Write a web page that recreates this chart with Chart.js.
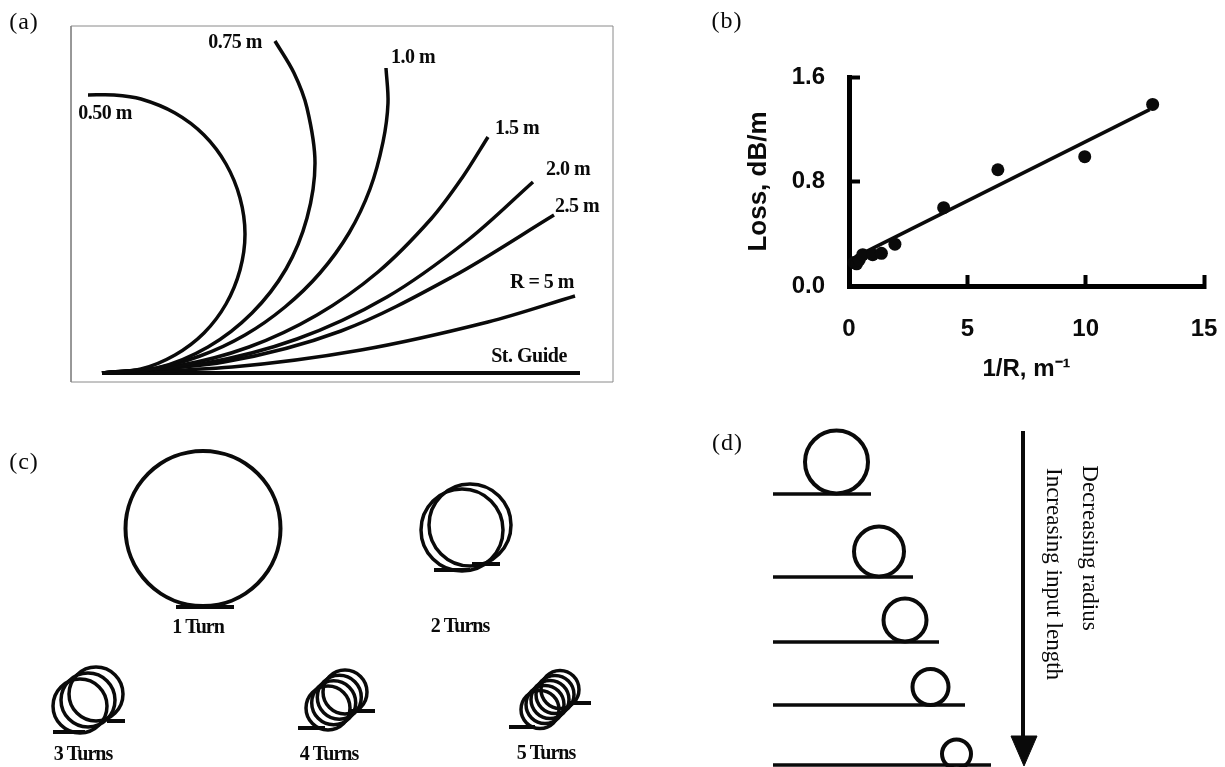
<!DOCTYPE html>
<html>
<head>
<meta charset="utf-8">
<style>
html,body{margin:0;padding:0;background:#fff;width:1225px;height:767px;overflow:hidden}
canvas{position:absolute;display:block}
</style>
<script src="https://cdn.jsdelivr.net/npm/chart.js@4"></script>
</head>
<body>
<canvas id="pa" width="640" height="400" style="left:0;top:0"></canvas>
<canvas id="pb" width="525" height="400" style="left:700px;top:0"></canvas>
<canvas id="pc" width="640" height="337" style="left:0;top:430px"></canvas>
<canvas id="pd" width="535" height="347" style="left:690px;top:420px"></canvas>
<script>
/* ---------- panel (a): guide traces, units measured from the launch point ---------- */
const guide050 = [[0,0],[39,4],[73,18],[102,40],[124,69],[138,103],[143,139],[138,175],[124,209],[102,238],[73,260],[39,274],[12,278],[-14,278]];
const guide075 = [[0,0],[55,5],[106,26],[150,60],[184,104],[205,155],[213,210],[205,265],[192,300],[173,332]];
const guide100 = [[0,0],[50,4],[98,17],[143,38],[183,66],[218,100],[247,140],[268,184],[281,231],[286,270],[284,305]];
const guide150 = [[0,0],[75,7],[147,26],[215,58],[276,101],[329,154],[360,195],[386,236]];
const guide200 = [[0,0],[99,9],[195,34],[285,76],[366,133],[431,191]];
const guide250 = [[0,0],[122,11],[239,42],[350,96],[452,158]];
const guide500 = [[0,0],[130,6],[259,23],[386,51],[473,77]];
const guideStraight = [[0,0],[478,0]];
const frameA = [[-31,-9],[511,-9],[511,347],[-31,347],[-31,-9]];
const labelsA = ["0.75 m","1.0 m","0.50 m","1.5 m","2.0 m","2.5 m","R = 5 m","St. Guide"];
const labelsAx = [133,311,3,415,466,475,440,427];
const labelsAy = [330,315,259,244,203,166,90,16];

/* ---------- panel (b): loss against curvature ---------- */
const curvature = [0.2,0.32,0.43,0.58,1.0,1.37,1.94,4.0,6.29,9.96,12.83];
const lossDb = [0.18,0.17,0.2,0.24,0.24,0.25,0.32,0.6,0.89,0.99,1.39];
const fitX = [0.3,12.7];
const fitY = [0.225,1.35];
const xTickValues = [0,5,10,15];
const yTickValues = [0,0.8,1.6];

/* ---------- panel (c): coil turns ---------- */
const turn1 = [[203,98.5,77.5]];
const turn2 = [[470,95,41],[462,100,41]];
const turn3 = [[80,276,27],[88,270,27],[96,264,27]];
const turn4 = [[328,278,22],[333.7,272.7,22],[339.3,267.3,22],[345,262,22]];
const turn5 = [[540,279.5,19],[545,274.5,19],[550,269.5,19],[555,264.5,19],[560,259.5,19]];
const leads = [
  [[176,177],[234,177]],
  [[434,140],[470,140]],[[472,134],[500,134]],
  [[53,302],[85,302]],[[107,291],[125,291]],
  [[298,298],[325,298]],[[351,281],[375,281]],
  [[509,297],[535,297]],[[570,273],[591,273]]
];
const labelsC = ["1 Turn","2 Turns","3 Turns","4 Turns","5 Turns"];
const labelsCx = [198,460,83,329,546];
const labelsCy = [198,197,325,325,324];

/* ---------- panel (d): decreasing radius ---------- */
const loops = [[146.5,42,31.5],[189,131.5,25],[215,200,21.5],[240.5,267,18],[266.5,334,14.5]];
const inputs = [[[83,74],[181,74]],[[83,157],[223,157]],[[83,222],[249,222]],[[83,285],[275,285]],[[83,345],[301,345]]];
const arrowShaft = [[333,11],[333,320]];
const arrowHead = [[321,316],[347,316],[334,346],[321,316]];

const ink = '#0a0a0a';
const SERIF = '"Liberation Serif","Times New Roman",serif';
const toPts = a => a.map(p => ({x:p[0], y:p[1]}));
const line = (a, w, o) => Object.assign({type:'scatter', showLine:true, data:toPts(a), borderColor:ink, borderWidth:w, pointRadius:0, fill:false, clip:false, borderCapStyle:'butt'}, o||{});
const rings = (a, w) => ({type:'bubble', data:a.map(p => ({x:p[0], y:p[1], r:p[2]})), borderColor:ink, backgroundColor:'rgba(0,0,0,0)', borderWidth:w, hoverRadius:0, clip:false});

const textPlugin = {
  id:'panelText',
  afterDatasetsDraw(chart, args, opts){
    const c = chart.ctx;
    (opts.items||[]).forEach(t => {
      c.save();
      c.font = t.font;
      c.fillStyle = ink;
      c.textAlign = 'center';
      c.textBaseline = 'middle';
      if ('letterSpacing' in c) c.letterSpacing = t.ls || '0px';
      c.translate(chart.scales.x.getPixelForValue(t.x), chart.scales.y.getPixelForValue(t.y));
      if (t.rot) c.rotate(t.rot);
      c.fillText(t.text, 0, 0);
      c.restore();
    });
  }
};
Chart.register(textPlugin);

const LETTER = '24px '+SERIF;
function panel(id, datasets, x, y, items){
  return new Chart(document.getElementById(id), {
    type:'scatter',
    data:{datasets},
    options:{
      responsive:false, animation:false, events:[],
      layout:{padding:0, autoPadding:false},
      plugins:{legend:{display:false}, tooltip:{enabled:false}, panelText:{items}},
      scales:{
        x:{type:'linear', display:false, min:x[0], max:x[1]},
        y:{type:'linear', display:false, min:y[0], max:y[1], reverse:!!y[2]}
      }
    }
  });
}

/* (a) */
const itemsA = labelsA.map((t,i) => ({text:t, x:labelsAx[i], y:labelsAy[i], font:'bold 20px '+SERIF, ls:'-0.5px'}));
itemsA.push({text:'(a)', x:-78, y:350, font:LETTER, ls:'1px'});
panel('pa', [
  line(frameA, 1, {borderColor:'#8a8a8a'}),
  line(guide050, 3.5, {tension:0.33}),
  line(guide075, 3.5, {tension:0.33}),
  line(guide100, 3.5, {tension:0.33}),
  line(guide150, 3.5, {tension:0.33}),
  line(guide200, 3.5, {tension:0.33}),
  line(guide250, 3.5, {tension:0.33}),
  line(guide500, 3.5, {tension:0.33}),
  line(guideStraight, 4)
], [-102,538], [-27,373], itemsA);

/* (b) */
new Chart(document.getElementById('pb'), {
  type:'scatter',
  data:{datasets:[
    {data:curvature.map((v,i) => ({x:v, y:lossDb[i]})), backgroundColor:ink, borderColor:ink, pointRadius:6.5, pointBorderWidth:0, clip:false},
    {showLine:true, data:fitX.map((v,i) => ({x:v, y:fitY[i]})), borderColor:ink, borderWidth:3.5, pointRadius:0, clip:false}
  ]},
  options:{
    responsive:false, animation:false, events:[],
    layout:{padding:{top:77, right:21, left:0, bottom:0}, autoPadding:false},
    plugins:{legend:{display:false}, tooltip:{enabled:false},
      panelText:{items:[{text:'(b)', x:-5.15, y:2.02, font:LETTER, ls:'1px'}]}},
    scales:{
      x:{type:'linear', min:0, max:15,
        afterBuildTicks:s => { s.ticks = xTickValues.map(v => ({value:v})); },
        afterFit:s => { s.height = 114; s.paddingLeft = 0; s.paddingRight = 0; },
        border:{display:true, color:'#000', width:5},
        grid:{drawOnChartArea:false, tickLength:-11, tickWidth:4, tickColor:'#000'},
        ticks:{padding:40, color:ink, maxRotation:0, autoSkip:false, font:{family:'"Liberation Sans"', size:24, weight:'bold'}},
        title:{display:true, text:'1/R, m⁻¹', color:ink, padding:{top:0,bottom:16}, font:{family:'"Liberation Sans"', size:24, weight:'bold'}}
      },
      y:{type:'linear', min:0, max:1.6,
        afterBuildTicks:s => { s.ticks = yTickValues.map(v => ({value:v})); },
        afterFit:s => { s.width = 149; s.paddingTop = 0; s.paddingBottom = 0; },
        border:{display:true, color:'#000', width:5},
        grid:{drawOnChartArea:false, tickLength:-11, tickWidth:4, tickColor:'#000'},
        ticks:{padding:35, color:ink, autoSkip:false, font:{family:'"Liberation Sans"', size:24, weight:'bold'}, callback:v => Number(v).toFixed(1)},
        title:{display:true, text:'Loss, dB/m', color:ink, padding:{top:43,bottom:0}, font:{family:'"Liberation Sans"', size:26, weight:'bold'}}
      }
    }
  }
});

/* (c) */
const itemsC = labelsC.map((t,i) => ({text:t, x:labelsCx[i], y:labelsCy[i], font:'bold 20px '+SERIF, ls:'-1px'}));
itemsC.push({text:'(c)', x:24, y:33, font:LETTER, ls:'1px'});
panel('pc', [
  rings(turn1,4), rings(turn2,3.5), rings(turn3,3.5), rings(turn4,3.5), rings(turn5,3.5)
].concat(leads.map(s => line(s,4))), [0,640], [0,337,true], itemsC);

/* (d) */
const itemsD = [
  {text:'(d)', x:37.5, y:24, font:LETTER, ls:'1px'},
  {text:'Increasing input length', x:363, y:154, font:'23px '+SERIF, rot:Math.PI/2},
  {text:'Decreasing radius', x:399, y:128, font:'23px '+SERIF, rot:Math.PI/2}
];
panel('pd',
  loops.map(l => rings([l],4))
    .concat(inputs.map(s => line(s,3.5)))
    .concat([line(arrowShaft,4), line(arrowHead,1,{fill:'shape', backgroundColor:ink})]),
  [0,535], [0,347,true], itemsD);
</script>
</body>
</html>
